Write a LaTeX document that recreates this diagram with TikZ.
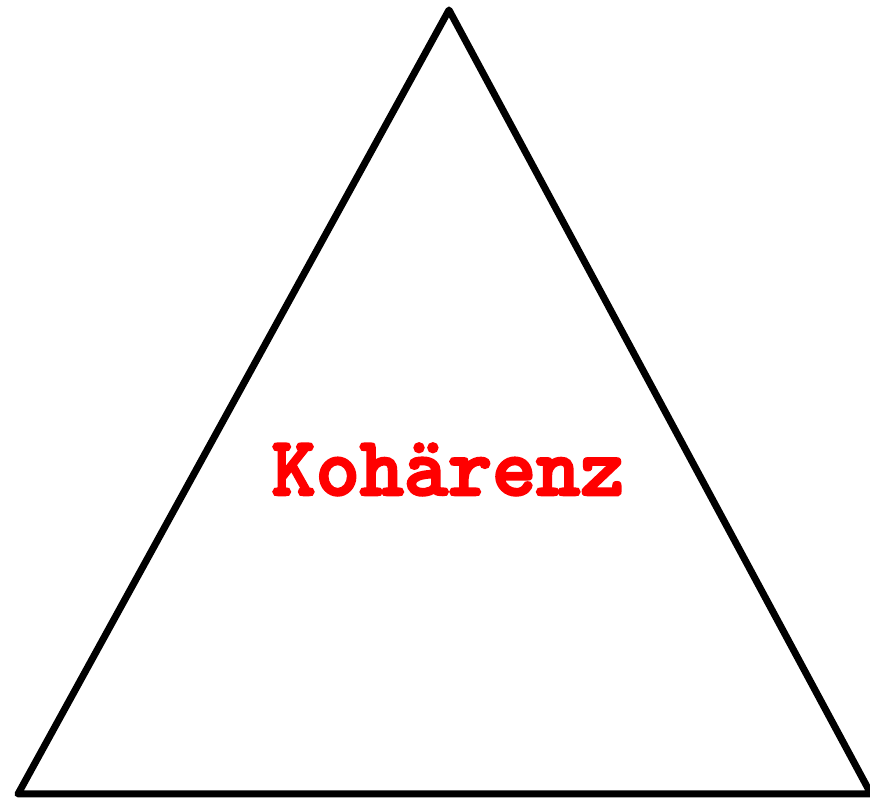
\documentclass[tikz,border=0pt]{standalone}
\usepackage{fontspec}
\newfontfamily\kohfont[FakeBold=3]{lmmonolt10-bold.otf}
\usetikzlibrary{positioning}
\definecolor{textred}{RGB}{255,0,0}

\begin{document}
\begin{tikzpicture}[x=1pt, y=1pt,
  edge/.style={draw=black, line width=7pt, line join=round},
  label/.style={text=textred, font=\fontsize{84}{90}\selectfont\kohfont, inner sep=0pt, anchor=base}]

\useasboundingbox (0,0) rectangle (870,799);

\coordinate (top) at (449,789);
\coordinate (left) at (18,5);
\coordinate (right) at (871,5);

\draw[edge] (top) -- (left) -- (right) -- cycle;

\node[label] (koh) at (448,304) {Kohärenz};

\end{tikzpicture}
\end{document}
